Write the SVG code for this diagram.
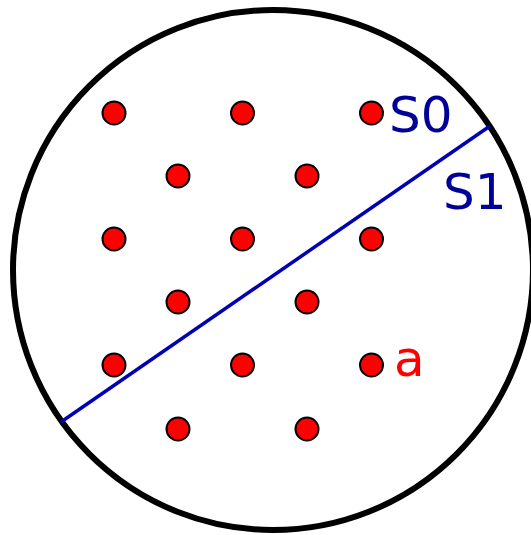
<svg xmlns="http://www.w3.org/2000/svg" width="531" height="535" viewBox="0 0 531 535">
<style>
.dot{fill:#ff0000;stroke:#000;stroke-width:2}
.lbl{font-family:"DejaVu Sans",sans-serif;font-size:50px}
</style>
<rect width="531" height="535" fill="#fff"/>
<g id="boundary"><circle cx="273" cy="270" r="260" fill="none" stroke="#000" stroke-width="6"/></g>
<g id="connectors"><line x1="61" y1="422" x2="490" y2="126" stroke="#0000b4" stroke-width="3.5"/></g>
<g id="dots">
<circle class="dot" cx="114" cy="113" r="11.5"/>
<circle class="dot" cx="242.5" cy="113" r="11.5"/>
<circle class="dot" cx="371.5" cy="113" r="11.5"/>
<circle class="dot" cx="178" cy="176" r="11.5"/>
<circle class="dot" cx="307" cy="176" r="11.5"/>
<circle class="dot" cx="114" cy="239" r="11.5"/>
<circle class="dot" cx="242.5" cy="239" r="11.5"/>
<circle class="dot" cx="371.5" cy="239" r="11.5"/>
<circle class="dot" cx="178" cy="302" r="11.5"/>
<circle class="dot" cx="307" cy="302" r="11.5"/>
<circle class="dot" cx="114" cy="365" r="11.5"/>
<circle class="dot" cx="242.5" cy="365" r="11.5"/>
<circle class="dot" cx="371.5" cy="365" r="11.5"/>
<circle class="dot" cx="178" cy="429" r="11.5"/>
<circle class="dot" cx="307" cy="429" r="11.5"/>
</g>
<g id="label-S0"><text class="lbl" x="389" y="132" fill="#000099">S0</text></g>
<g id="label-S1"><text class="lbl" x="443" y="209" fill="#000099">S1</text></g>
<g id="label-a"><text class="lbl" x="394" y="376" fill="#ff0000">a</text></g>
</svg>
